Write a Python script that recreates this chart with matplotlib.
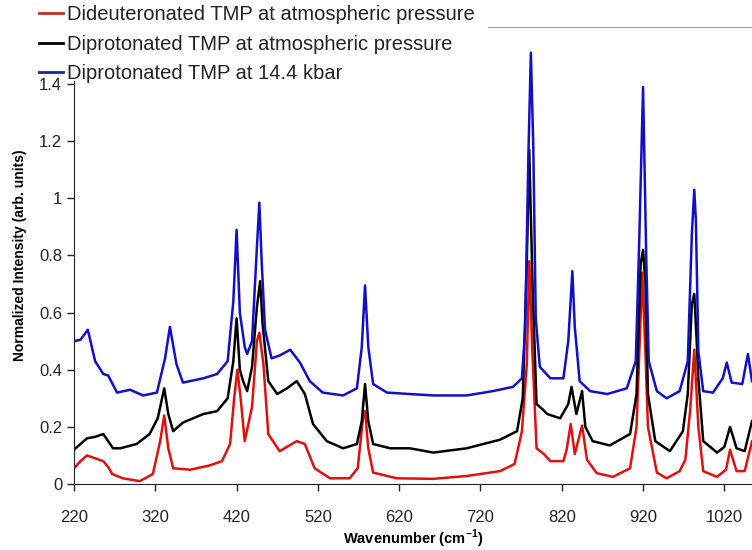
import matplotlib
import matplotlib.pyplot as plt
from matplotlib.lines import Line2D

matplotlib.use("Agg")

plt.rcParams["font.family"] = ["Liberation Sans", "DejaVu Sans"]
plt.rcParams["mathtext.fontset"] = "custom"
plt.rcParams["mathtext.rm"] = "Liberation Sans"
plt.rcParams["mathtext.bf"] = "Liberation Sans:bold"

# values (wavenumber, normalised intensity)
blue_w = [220, 228, 237, 246, 256, 262, 273, 289, 305, 322, 332, 338, 346, 354, 379,
          396, 409, 416, 420, 424, 430, 433, 439, 445, 448, 451, 455, 463, 473, 486,
          498, 510, 526, 551, 568, 574, 578, 582, 588, 605, 633, 662, 703, 735, 760,
          771, 775, 779, 782, 785, 788, 793, 806, 822, 828, 833, 836, 842, 855, 876,
          900, 911, 915, 920, 924, 927, 937, 949, 965, 975, 980, 983, 985, 988, 994,
          1006, 1018, 1023, 1029, 1042, 1049, 1054]
blue_v = [0.50, 0.505, 0.54, 0.43, 0.385, 0.38, 0.32, 0.33, 0.31, 0.32, 0.44, 0.55, 0.42, 0.355, 0.37,
          0.385, 0.43, 0.64, 0.89, 0.60, 0.48, 0.455, 0.50, 0.83, 0.985, 0.77, 0.54, 0.44, 0.45, 0.47,
          0.425, 0.36, 0.32, 0.31, 0.335, 0.48, 0.695, 0.48, 0.35, 0.32, 0.315, 0.31, 0.31, 0.325, 0.34,
          0.37, 0.54, 1.16, 1.51, 1.18, 0.58, 0.41, 0.37, 0.37, 0.50, 0.745, 0.55, 0.36, 0.325, 0.315,
          0.335, 0.43, 0.82, 1.39, 0.78, 0.43, 0.325, 0.30, 0.325, 0.43, 0.875, 1.03, 0.92, 0.465, 0.325,
          0.32, 0.37, 0.425, 0.355, 0.35, 0.455, 0.36]

black_w = [220, 228, 236, 246, 256, 262, 268, 277, 297, 313, 323, 331, 336, 342, 354,
           379, 396, 409, 416, 420, 424, 428, 433, 439, 445, 449, 452, 459, 470, 482,
           494, 504, 514, 531, 551, 568, 574, 578, 582, 588, 609, 633, 662, 703, 744,
           765, 772, 777, 780, 784, 789, 797, 802, 818, 828, 832, 838, 845, 849, 858,
           879, 904, 912, 917, 920, 923, 926, 935, 953, 969, 975, 980, 983, 986, 988,
           994, 1011, 1020, 1027, 1035, 1045, 1054]
black_v = [0.12, 0.14, 0.16, 0.165, 0.175, 0.15, 0.125, 0.125, 0.14, 0.175, 0.23, 0.335, 0.245, 0.185, 0.215,
           0.245, 0.255, 0.30, 0.43, 0.58, 0.40, 0.36, 0.325, 0.41, 0.62, 0.71, 0.56, 0.36, 0.315, 0.335,
           0.36, 0.315, 0.21, 0.15, 0.125, 0.14, 0.22, 0.35, 0.22, 0.14, 0.125, 0.125, 0.11, 0.125, 0.155,
           0.185, 0.30, 0.78, 1.17, 0.70, 0.28, 0.26, 0.245, 0.23, 0.28, 0.34, 0.245, 0.325, 0.20, 0.15,
           0.135, 0.175, 0.315, 0.77, 0.82, 0.70, 0.315, 0.15, 0.115, 0.185, 0.315, 0.63, 0.665, 0.50, 0.37,
           0.15, 0.11, 0.13, 0.20, 0.125, 0.115, 0.22]

red_w = [220, 228, 236, 246, 256, 262, 267, 280, 301, 317, 326, 331, 336, 342, 363,
         387, 402, 412, 417, 421, 425, 430, 439, 445, 448, 453, 459, 473, 494, 504,
         516, 535, 559, 569, 576, 578, 582, 588, 617, 662, 703, 744, 762, 771, 777,
         780, 784, 789, 798, 806, 822, 826, 831, 836, 845, 851, 863, 883, 904, 912,
         919, 923, 926, 937, 949, 965, 972, 978, 983, 988, 994, 1011, 1022, 1027, 1035,
         1045, 1054]
red_v = [0.055, 0.08, 0.10, 0.09, 0.08, 0.06, 0.035, 0.02, 0.01, 0.035, 0.15, 0.24, 0.125, 0.055, 0.05,
         0.065, 0.08, 0.14, 0.30, 0.40, 0.30, 0.15, 0.27, 0.50, 0.53, 0.42, 0.175, 0.115, 0.15, 0.14,
         0.055, 0.02, 0.02, 0.055, 0.245, 0.255, 0.125, 0.04, 0.02, 0.018, 0.028, 0.045, 0.07, 0.185, 0.42,
         0.78, 0.45, 0.125, 0.105, 0.08, 0.08, 0.12, 0.21, 0.105, 0.205, 0.085, 0.038, 0.025, 0.055, 0.20,
         0.74, 0.45, 0.20, 0.04, 0.02, 0.045, 0.085, 0.26, 0.47, 0.20, 0.045, 0.025, 0.05, 0.12, 0.045,
         0.045, 0.15]

labels = ["Dideuteronated TMP at atmospheric pressure",
          "Diprotonated TMP at atmospheric pressure",
          "Diprotonated TMP at 14.4 kbar"]
x_ticks = [220, 320, 420, 520, 620, 720, 820, 920, 1020]
y_ticks = [0, 0.2, 0.4, 0.6, 0.8, 1.0, 1.2, 1.4]
y_ticklabels = ["0", "0.2", "0.4", "0.6", "0.8", "1", "1.2", "1.4"]

c_red, c_black, c_blue = "#e01010", "#000000", "#1010c8"

fig = plt.figure(figsize=(7.52, 5.5), dpi=100)
ax = fig.add_axes([0.0984, 0.12, 0.9016, 0.831])

ax.plot(red_w, red_v, color=c_red, lw=1.8)
ax.plot(black_w, black_v, color=c_black, lw=1.8)
ax.plot(blue_w, blue_v, color=c_blue, lw=1.8)

ax.set_xlim(220, 1054)
ax.set_ylim(0, 1.6)
ax.set_xticks(x_ticks)
ax.set_yticks(y_ticks)
ax.set_yticklabels(y_ticklabels)
ax.tick_params(labelsize=12, length=5, width=1, colors="#222222")
ax.tick_params(axis="x", pad=14)

# the legend block hides the upper part of the frame in the original
ax.spines["right"].set_visible(False)
ax.spines["top"].set_color("#a0a0a0")
ax.spines["top"].set_bounds(729, 1054)
ax.spines["left"].set_color("#222222")
ax.spines["left"].set_bounds(0, 1.41)
ax.spines["bottom"].set_color("#222222")

ax.set_xlabel(r"Wavenumber (cm$^{\mathbf{-1}}$)", fontsize=10.5, fontweight="bold", labelpad=2)
ax.set_ylabel("Normalized Intensity (arb. units)", fontsize=10, fontweight="bold", labelpad=9)

handles = [Line2D([], [], color=c, lw=2) for c in ("#c03020", "#000000", "#2020a0")]
leg = fig.legend(handles, labels, loc="upper left", bbox_to_anchor=(0.052, 0.99),
                 fontsize=14.5, frameon=False, handlelength=1.2, handletextpad=0.2,
                 labelspacing=0.5, borderpad=0.0, borderaxespad=0.0)
for t in leg.get_texts():
    t.set_color("#222222")

fig.savefig("out.png", dpi=100)
